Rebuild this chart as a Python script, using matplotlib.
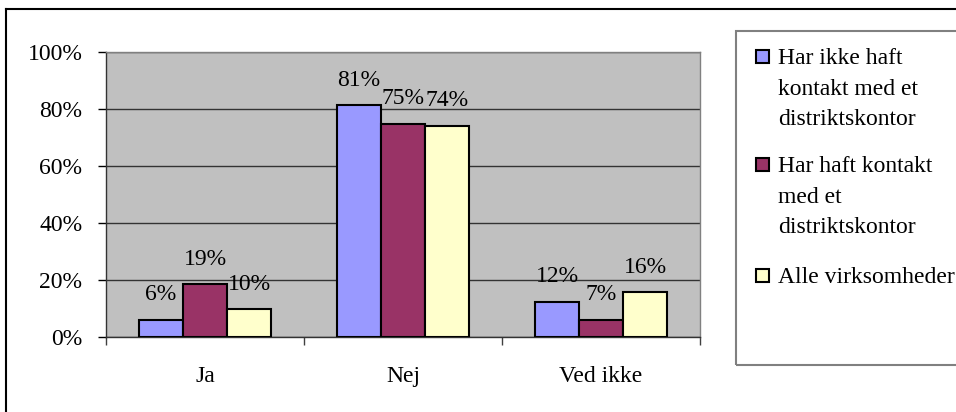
import matplotlib
matplotlib.use("Agg")
import matplotlib.pyplot as plt
import numpy as np
from matplotlib.patches import Rectangle
from matplotlib.lines import Line2D

categories = ["Ja", "Nej", "Ved ikke"]
series_names = [
    "Har ikke haft\nkontakt med et\ndistriktskontor",
    "Har haft kontakt\nmed et\ndistriktskontor",
    "Alle virksomheder",
]
# bar heights, labels as printed
ikke_haft = [6.0, 81.3, 12.4]
haft = [18.6, 74.9, 6.1]
alle = [9.7, 74.2, 15.8]
label_ikke_haft = ["6%", "81%", "12%"]
label_haft = ["19%", "75%", "7%"]
label_alle = ["10%", "74%", "16%"]

colors = ["#9999FF", "#993366", "#FFFFCC"]

plt.rcParams["font.family"] = ["Liberation Serif", "DejaVu Serif"]
FS = 17

W, H = 956, 412
fig = plt.figure(figsize=(W / 100, H / 100), dpi=100)
ax = fig.add_axes([106 / W, 1 - 337 / H, (700 - 106) / W, (337 - 52) / H])
ax.set_facecolor("#C0C0C0")

x = np.arange(len(categories))
width = 1 / 4.5
all_vals = [ikke_haft, haft, alle]
all_labels = [label_ikke_haft, label_haft, label_alle]
for i, (vals, labs) in enumerate(zip(all_vals, all_labels)):
    pos = x + (i - 1) * width
    ax.bar(pos, vals, width, color=colors[i], edgecolor="black", linewidth=1.5, zorder=3)
    for px, v, lab in zip(pos, vals, labs):
        ax.annotate(lab, (px, v), xytext=(0, 14), textcoords="offset points",
                    ha="center", va="baseline", fontsize=FS, zorder=4)

ax.set_xlim(-0.5, 2.5)
ax.set_ylim(0, 100)
ax.set_yticks([0, 20, 40, 60, 80, 100])
ax.set_yticklabels(["0%", "20%", "40%", "60%", "80%", "100%"])
ax.yaxis.grid(True, color="#333333", linewidth=1.0, zorder=1)
ax.set_axisbelow(True)
ax.tick_params(axis="y", direction="out", length=6, width=1, pad=11, labelsize=FS)

ax.set_xticks(x)
ax.set_xticklabels(categories)
ax.set_xticks([-0.5, 0.5, 1.5, 2.5], minor=True)
ax.tick_params(axis="x", which="major", length=0, pad=21, labelsize=FS)
ax.tick_params(axis="x", which="minor", direction="out", length=6, width=1, color="#404040")

for side in ["left", "bottom"]:
    ax.spines[side].set_color("#333333")
    ax.spines[side].set_linewidth(1.0)
for side in ["top", "right"]:
    ax.spines[side].set_color("#808080")
    ax.spines[side].set_linewidth(1.0)

# outer chart frame (cropped on the right and bottom)
fig.add_artist(Line2D([6 / W, 6 / W], [0, 1 - 9 / H], color="black", linewidth=1.5))
fig.add_artist(Line2D([6 / W, 1], [1 - 9 / H, 1 - 9 / H], color="black", linewidth=1.5))

# legend box
fig.add_artist(Rectangle((736 / W, 1 - 365 / H), (W - 736 + 10) / W, (365 - 31) / H,
                         transform=fig.transFigure, facecolor="none",
                         edgecolor="#808080", linewidth=1.5, clip_on=False))

first_line_y = [56, 164, 275]
for name, col, yy in zip(series_names, colors, first_line_y):
    fig.add_artist(Rectangle((756 / W, 1 - (yy + 7) / H), 13 / W, 13 / H,
                             transform=fig.transFigure, facecolor=col,
                             edgecolor="black", linewidth=1.5))
    fig.text(778 / W, 1 - (yy - 8) / H, name, fontsize=FS, va="top", ha="left",
             linespacing=1.6, transform=fig.transFigure)

fig.savefig("out.png", dpi=100)
